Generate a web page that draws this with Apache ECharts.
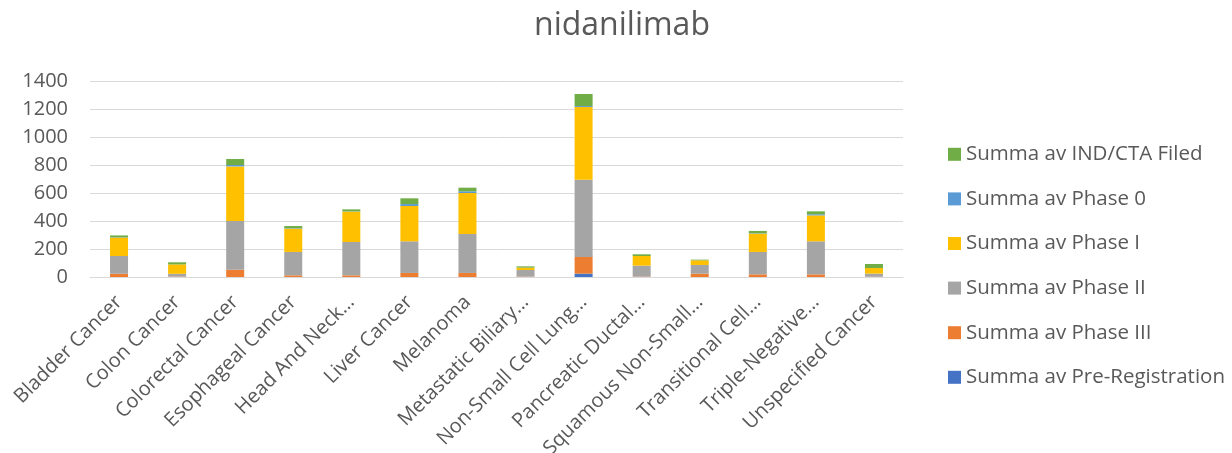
<!DOCTYPE html>
<html><head><meta charset="utf-8">
<script src="https://cdn.jsdelivr.net/npm/echarts@6/dist/echarts.min.js"></script>
<style>html,body{margin:0;padding:0;background:#fff}#c{width:1232px;height:453px}</style>
</head><body><div id="c"></div>
<script>
const title = "nidanilimab";
const categories = ["Bladder Cancer","Colon Cancer","Colorectal Cancer","Esophageal Cancer","Head And Neck…","Liver Cancer","Melanoma","Metastatic Biliary…","Non-Small Cell Lung…","Pancreatic Ductal…","Squamous Non-Small…","Transitional Cell…","Triple-Negative…","Unspecified Cancer"];
const preRegistration = [0,0,0,0,0,0,0,0,24,0,0,0,0,0];
const phaseIII = [23,3,52,12,12,29,29,3,119,3,24,19,19,2];
const phaseII = [127,20,348,167,238,226,278,47,552,78,62,160,236,22];
const phaseI = [131,67,390,166,217,252,293,17,519,69,33,131,185,40];
const phase0 = [2,0,10,3,2,14,12,0,7,0,0,3,8,0];
const indCtaFiled = [14,15,43,16,14,41,26,9,86,12,5,16,21,29];
const seriesNames = ["Summa av Pre-Registration","Summa av Phase III","Summa av Phase II","Summa av Phase I","Summa av Phase 0","Summa av IND/CTA Filed"];
const seriesData = [preRegistration, phaseIII, phaseII, phaseI, phase0, indCtaFiled];
const colors = ["#4472C4","#ED7D31","#A5A5A5","#FFC000","#5B9BD5","#70AD47"];
const yTicks = {min:0, max:1400, interval:200};

const font = "'Open Sans', 'Liberation Sans', sans-serif";
const chart = echarts.init(document.getElementById('c'), null, {renderer:'canvas'});
chart.setOption({
  animation:false,
  title:{text:title,left:617,top:5,textAlign:'center',textStyle:{fontFamily:font,fontSize:32,fontWeight:'normal',color:'#595959'}},
  grid:{left:90,right:329,top:81,bottom:176,containLabel:false,outerBoundsMode:'none'},
  legend:{orient:'vertical',left:943,top:135,itemWidth:13,itemHeight:13,itemGap:16,icon:'rect',
    data:seriesNames.slice().reverse(),
    textStyle:{fontFamily:font,fontSize:20.5,color:'#595959',lineHeight:28.6}},
  xAxis:{type:'category',data:categories,
    axisLine:{lineStyle:{color:'#d9d9d9'}},axisTick:{show:false},
    axisLabel:{rotate:45,interval:0,fontFamily:font,fontSize:20,color:'#595959',margin:22}},
  yAxis:{type:'value',min:yTicks.min,max:yTicks.max,interval:yTicks.interval,
    axisLine:{show:false},axisTick:{show:false},
    splitLine:{lineStyle:{color:'#d9d9d9',width:1}},
    axisLabel:{fontFamily:font,fontSize:20,color:'#595959',margin:22,formatter:v=>String(v)}},
  series:seriesNames.map((n,i)=>({name:n,type:'bar',stack:'s',data:seriesData[i],barWidth:18,
    itemStyle:{color:colors[i]}}))
});
</script></body></html>
